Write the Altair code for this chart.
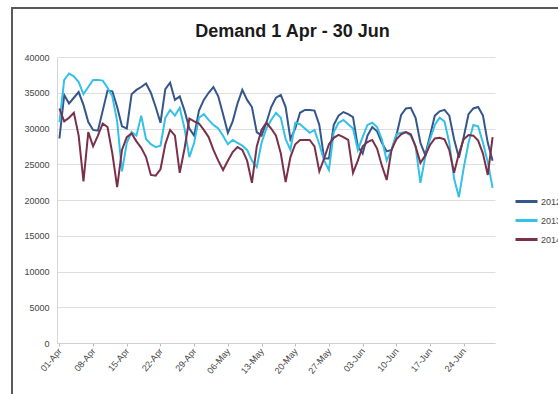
import altair as alt
import pandas as pd

title_text = "Demand 1 Apr - 30 Jun"
years = ["2012", "2013", "2014"]
colors = ["#34568b", "#35c0e8", "#7b3049"]

# one entry per day, 1 April to 30 June
dates = [d.strftime("%Y-%m-%d") for d in pd.date_range("2014-04-01", "2014-06-30", freq="D")]

demand_2012 = [
    28600, 34700, 33500, 34300, 35100, 33300, 30900, 29800, 29700, 32500,
    35300, 35200, 33000, 30300, 30000, 34800, 35400, 35800, 36300, 35000,
    33000, 30800, 35500, 36400, 34000, 34500, 32500, 30000, 29000, 32500,
    34000, 35000, 35800, 34500, 32000, 29400, 31000, 33500, 35400, 34000,
    33000, 29500, 29000, 30800, 33000, 34300, 34700, 33000, 28500, 30000,
    32200, 32600, 32600, 32500, 30500, 25800, 25800, 30500, 31800, 32300,
    32000, 31600, 27500, 26500, 29000, 30200, 29600, 28000, 26800, 27000,
    29000, 31900, 32800, 32900, 31500, 28000, 26300, 29000, 31800, 32400,
    32600, 31800, 28500, 25900, 28800, 32000, 32800, 33000, 31800, 28000,
    25500,
]
demand_2013 = [
    30900, 36800, 37700, 37300, 36500, 34800, 35800, 36800, 36800, 36700,
    35700, 34500, 31000, 24000, 28000, 29500, 29000, 31800, 28500, 27800,
    27400, 27600, 31500, 32600, 31800, 32900, 30000, 26000, 28000, 31500,
    32000, 31200, 30500, 30000, 29000, 27800, 28400, 28000, 27600, 27000,
    25500, 24600, 28000, 30000, 31200, 32200, 31500, 28500, 27000, 30800,
    30600, 30000, 29400, 29800, 27800, 25500, 24200, 29500, 30800, 31200,
    30600, 30000, 27000, 28800, 30500, 30800, 30200, 28500, 25500, 27000,
    29200, 29400, 29500, 29000, 27500, 22400, 26000, 28500, 30500, 31500,
    31000, 28000, 23000, 20400, 24500, 28000, 30500, 30300, 28000, 25300,
    21700,
]
demand_2014 = [
    32800, 31000, 31500, 32200, 29000, 22600, 29500, 27500, 29000, 30700,
    30200, 26500, 21800, 27000, 28800, 29300, 28200, 27300, 26000, 23500,
    23400, 24300, 27800, 29800, 29000, 23800, 27200, 31400, 31000, 30700,
    29800, 28800, 27000, 25500, 24200, 25500, 26700, 27400, 27000, 25500,
    22400, 27500, 29800, 30800, 30000, 29000, 26500, 22500, 26000, 27800,
    28400, 28400, 28400, 27500, 24000, 25800, 27800, 28700, 29100, 28800,
    28400, 23800, 25500, 27500, 28100, 28400, 27200, 24800, 22800, 27000,
    28500, 29200, 29500, 29200, 27500, 25200, 26200, 27700, 28600, 28700,
    28500, 27000, 23800, 26500, 28500, 29100, 29000, 28300, 26500, 23500,
    28800,
]

tick_dates = dates[::7]
y_ticks = list(range(0, 40001, 5000))

df = pd.DataFrame({
    "date": dates * 3,
    "year": [y for y in years for _ in dates],
    "demand": demand_2012 + demand_2013 + demand_2014,
})


def dt(s, hours=0):
    return alt.DateTime(year=int(s[:4]), month=int(s[5:7]), date=int(s[8:10]),
                        hours=hours, utc=True)


FONT = "Liberation Sans"
W, H = 438, 286

x_enc = alt.X(
    "date:T",
    title=None,
    scale=alt.Scale(type="utc", domain=[dt("2014-03-31", 12), dt("2014-06-30", 12)]),
    axis=alt.Axis(
        values=[dt(s) for s in tick_dates],
        format="%d-%b",
        labelAngle=-50,
        labelFont=FONT,
        labelFontSize=9,
        labelColor="#444444",
        labelPadding=3,
        domainColor="#cfcfcf",
        tickColor="#bdbdbd",
        tickSize=3,
        grid=False,
    ),
)
y_enc = alt.Y(
    "demand:Q",
    title=None,
    scale=alt.Scale(domain=[0, 40000], nice=False),
    axis=alt.Axis(
        values=y_ticks,
        format="d",
        labelFont=FONT,
        labelFontSize=9,
        labelColor="#444444",
        labelPadding=8,
        ticks=False,
        domainColor="#d6d6d6",
        gridColor="#dedede",
        gridWidth=1,
    ),
)

lines = alt.Chart(df).mark_line(strokeWidth=2).encode(
    x=x_enc,
    y=y_enc,
    color=alt.Color(
        "year:N",
        scale=alt.Scale(domain=years, range=colors),
        legend=alt.Legend(
            title=None,
            orient="none",
            legendX=457,
            legendY=132,
            symbolType="stroke",
            symbolSize=484,
            symbolStrokeWidth=3,
            labelFont=FONT,
            labelFontSize=9,
            labelColor="#444444",
            labelOffset=2,
            rowPadding=0,
        ),
    ),
)

# outer chart frame
frame = alt.Chart(pd.DataFrame({"k": [0]})).mark_rect(
    fillOpacity=0, stroke="#5a5a5a", strokeWidth=2
).encode(
    x=alt.value(-45), x2=alt.value(700), y=alt.value(-49), y2=alt.value(600)
)

title = alt.Chart(pd.DataFrame({"t": [title_text]})).mark_text(
    font=FONT, fontSize=18, fontWeight="bold", color="#1a1a1a",
    align="center", baseline="alphabetic",
).encode(text="t:N", x=alt.value(235.5), y=alt.value(-20))

chart = alt.layer(frame, title, lines).properties(
    width=W,
    height=H,
    padding={"left": 57, "top": 57, "right": 63, "bottom": 51},
    autosize=alt.AutoSizeParams(type="none"),
    background="white",
).configure_view(stroke=None)

chart.save("out.html", embed_options={"renderer": "svg", "actions": False})
